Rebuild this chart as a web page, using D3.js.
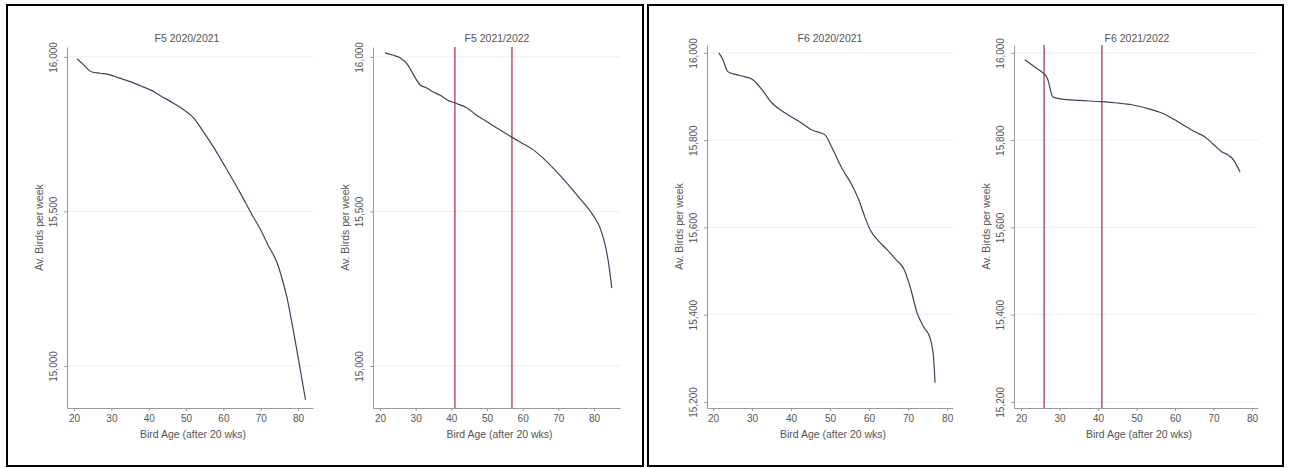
<!DOCTYPE html>
<html>
<head>
<meta charset="utf-8">
<script src="https://cdn.jsdelivr.net/npm/d3@7"></script>
<style>
  html, body { margin: 0; padding: 0; background: #fff; }
  svg { display: block; font-family: "Liberation Sans", Arial, sans-serif; }
</style>
</head>
<body>
<svg id="chart" width="1292" height="468"></svg>
<script>
// ---------- DATA ----------
const titles = ["F5 2020/2021", "F5 2021/2022", "F6 2020/2021", "F6 2021/2022"];
const xTitle = "Bird Age (after 20 wks)";
const yTitle = "Av. Birds per week";
const xTicks = [20, 30, 40, 50, 60, 70, 80];
const yTicksF5 = [15000, 15500, 16000];
const yTicksF6 = [15200, 15400, 15600, 15800, 16000];

const f5_2021_age = [20.8, 22.5, 24.8, 27, 29.6, 32, 35, 38.5, 41, 43.5, 46.5, 49, 52, 54.5, 57.3, 59, 61, 64.5, 68, 70, 72, 74.4, 76, 77, 78.7, 80.6, 82];
const f5_2021_val = [15994, 15975, 15951, 15947, 15942, 15932, 15920, 15903, 15890, 15872, 15851, 15832, 15803, 15760, 15709, 15675, 15634, 15560, 15482, 15440, 15390, 15333, 15270, 15223, 15117, 14987, 14890];

const f5_2122_age = [21.4, 23.5, 25.6, 27.8, 29.5, 31.2, 33, 34.8, 37, 39, 41, 44.4, 47, 50, 53, 57.3, 60, 62.9, 65.5, 68.5, 71, 74, 76, 78, 80, 81.6, 83, 84, 85];
const f5_2122_val = [16013, 16006, 15997, 15974, 15940, 15910, 15900, 15887, 15875, 15860, 15851, 15835, 15812, 15790, 15768, 15738, 15720, 15700, 15675, 15641, 15610, 15570, 15542, 15515, 15483, 15450, 15398, 15340, 15252];

const f6_2021_age = [21.5, 22.5, 23.8, 26, 28.2, 30.3, 32.6, 35.1, 38.5, 42, 45.4, 48.7, 50.4, 53, 55.6, 57.5, 58.9, 60.3, 62.5, 64.7, 67, 69, 70.5, 72.3, 74.1, 75.6, 76.5, 76.9];
const f6_2021_val = [16000, 15985, 15957, 15950, 15945, 15938, 15915, 15885, 15862, 15843, 15823, 15812, 15784, 15736, 15697, 15660, 15624, 15594, 15568, 15548, 15525, 15503, 15464, 15404, 15370, 15347, 15303, 15244];

const f6_2122_age = [21, 23.5, 25.7, 26.8, 28.3, 30.6, 35, 41, 45, 48.8, 53, 56.6, 60.8, 65.2, 67.8, 70, 72.2, 73.8, 74.8, 76.9];
const f6_2122_val = [15984, 15968, 15954, 15943, 15899, 15894, 15891, 15888, 15885, 15881, 15872, 15862, 15842, 15819, 15807, 15790, 15773, 15766, 15759, 15727];

const markers_f5_2122 = [41, 57];
const markers_f6_2122 = [26, 41];

const xDomains = [[18.1, 84.0], [18.04, 87.3], [18.46, 81.5], [18.18, 81.56]];
const yDomainF5 = [14864, 16032];
const yDomainF6 = [15186, 16018];

// ---------- LAYOUT ----------
const layout = [
  { x0: 67, x1: 313, y0: 47, y1: 408, title: 187 },
  { x0: 373, x1: 620, y0: 47, y1: 408, title: 497 },
  { x0: 707, x1: 953, y0: 45, y1: 408, title: 830 },
  { x0: 1014, x1: 1258, y0: 45, y1: 408, title: 1137 }
];

const series = [
  { age: f5_2021_age, val: f5_2021_val, yTicks: yTicksF5, yDom: yDomainF5, marks: [] },
  { age: f5_2122_age, val: f5_2122_val, yTicks: yTicksF5, yDom: yDomainF5, marks: markers_f5_2122 },
  { age: f6_2021_age, val: f6_2021_val, yTicks: yTicksF6, yDom: yDomainF6, marks: [] },
  { age: f6_2122_age, val: f6_2122_val, yTicks: yTicksF6, yDom: yDomainF6, marks: markers_f6_2122 }
];

const svg = d3.select("#chart");
const fmt = d3.format(",");
const textCol = "#555";
const axisCol = "#999";

// outer boxes
svg.append("rect").attr("x", 7).attr("y", 5).attr("width", 636).attr("height", 461)
  .attr("fill", "none").attr("stroke", "#000").attr("stroke-width", 2);
svg.append("rect").attr("x", 648).attr("y", 5).attr("width", 635).attr("height", 461)
  .attr("fill", "none").attr("stroke", "#000").attr("stroke-width", 2);

series.forEach((s, i) => {
  const L = layout[i];
  const x = d3.scaleLinear().domain(xDomains[i]).range([L.x0, L.x1]);
  const y = d3.scaleLinear().domain(s.yDom).range([L.y1, L.y0]);
  const g = svg.append("g");

  // gridlines
  g.selectAll(".grid").data(s.yTicks).enter().append("line")
    .attr("x1", L.x0).attr("x2", L.x1)
    .attr("y1", d => y(d)).attr("y2", d => y(d))
    .attr("stroke", "#eaeef1").attr("stroke-width", 1);

  // y axis
  const ya = g.append("g").attr("transform", `translate(${L.x0},0)`)
    .call(d3.axisLeft(y).tickValues(s.yTicks).tickSize(3).tickSizeOuter(0).tickFormat(fmt));
  ya.select(".domain").attr("stroke", axisCol);
  ya.selectAll(".tick line").attr("stroke", axisCol);
  ya.selectAll(".tick text")
    .attr("fill", textCol).attr("font-size", 10)
    .attr("text-anchor", "middle")
    .attr("x", 0).attr("dy", 0)
    .attr("transform", "translate(-10,0) rotate(-90)");

  // x axis
  const xa = g.append("g").attr("transform", `translate(0,${L.y1})`)
    .call(d3.axisBottom(x).tickValues(xTicks).tickSize(3).tickSizeOuter(0).tickFormat(d3.format("d")));
  xa.select(".domain").attr("stroke", axisCol);
  xa.selectAll(".tick line").attr("stroke", axisCol);
  xa.selectAll(".tick text").attr("fill", textCol).attr("font-size", 10).attr("y", 7);

  // titles
  g.append("text").attr("x", L.title).attr("y", 42).attr("text-anchor", "middle")
    .attr("font-size", 10.5).attr("fill", textCol).text(titles[i]);
  g.append("text").attr("x", (L.x0 + L.x1) / 2 + 3).attr("y", 438).attr("text-anchor", "middle")
    .attr("font-size", 10.5).attr("fill", textCol).text(xTitle);
  g.append("text")
    .attr("transform", `translate(${L.x0 - 24},${(L.y0 + L.y1) / 2}) rotate(-90)`)
    .attr("text-anchor", "middle").attr("font-size", 10.5).attr("fill", textCol).text(yTitle);

  // marker lines
  g.selectAll(".mark").data(s.marks).enter().append("line")
    .attr("x1", d => x(d)).attr("x2", d => x(d))
    .attr("y1", L.y0).attr("y2", L.y1)
    .attr("stroke", "#c95a72").attr("stroke-width", 1.6);

  // series line
  const pts = s.age.map((a, k) => [a, s.val[k]]);
  g.append("path").datum(pts)
    .attr("fill", "none").attr("stroke", "#36465c").attr("stroke-width", 1.2)
    .attr("d", d3.line().x(d => x(d[0])).y(d => y(d[1])).curve(d3.curveMonotoneX));
});
</script>
</body>
</html>
